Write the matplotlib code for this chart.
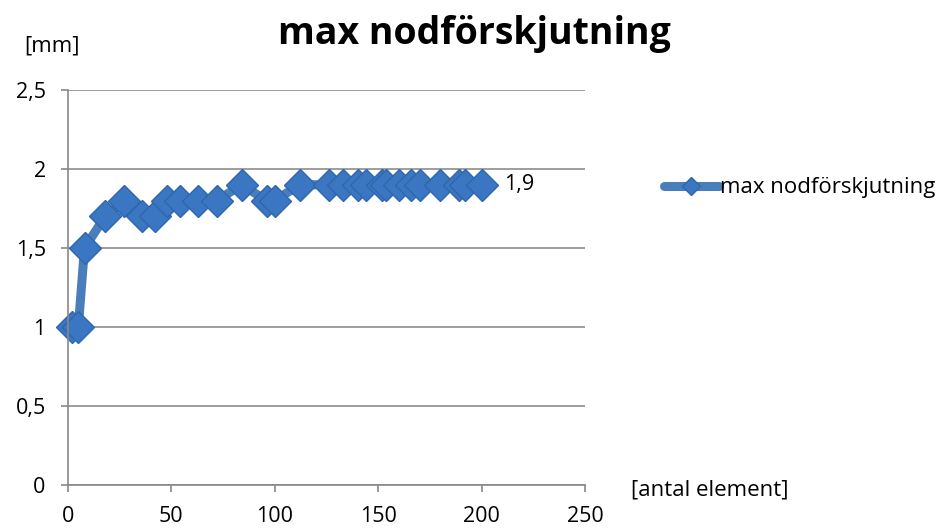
import matplotlib.pyplot as plt
import numpy as np

# antal element vs max nodförskjutning [mm]
antal_element = [2, 5, 8, 18, 27, 36, 42, 48, 54, 63, 72, 84, 96, 100, 112,
                 126, 133, 140, 144, 152, 154, 160, 166, 170, 180, 189, 192, 200]
max_forskjutning = [1.0, 1.0, 1.5, 1.7, 1.8, 1.7, 1.7, 1.8, 1.8, 1.8, 1.8, 1.9, 1.8, 1.8, 1.9,
                    1.9, 1.9, 1.9, 1.9, 1.9, 1.9, 1.9, 1.9, 1.9, 1.9, 1.9, 1.9, 1.9]
x_ticks = [0, 50, 100, 150, 200, 250]
y_ticks = [0, 0.5, 1, 1.5, 2, 2.5]
y_labels = ["0", "0,5", "1", "1,5", "2", "2,5"]

plt.rcParams['font.family'] = ['Open Sans', 'DejaVu Sans']

blue = "#4a7ebb"
fig = plt.figure(figsize=(9.48, 5.29), dpi=100)
ax = fig.add_axes([0.0717, 0.0832, 0.5454, 0.7468])

ax.set_xlim(0, 250)
ax.set_ylim(0, 2.5)
ax.set_xticks(x_ticks)
ax.set_yticks(y_ticks)
ax.set_yticklabels(y_labels)
ax.tick_params(labelsize=15.5, colors="#888888", labelcolor="black", length=5, width=1.2)
ax.tick_params(axis="x", pad=10)
ax.tick_params(axis="y", pad=11)
ax.grid(axis="y", color="#8c8c8c", linewidth=1.2)
ax.set_axisbelow(True)
for side in ["top", "right"]:
    ax.spines[side].set_visible(False)
for side in ["left", "bottom"]:
    ax.spines[side].set_color("#888888")
    ax.spines[side].set_linewidth(1.2)

ax.plot(antal_element, max_forskjutning, color=blue, linewidth=6.5,
        marker="D", markersize=16, markerfacecolor="#3a76c2",
        markeredgecolor="#2f66ad", markeredgewidth=1, solid_joinstyle="round",
        solid_capstyle="round", label="max nodförskjutning", clip_on=False)

ax.annotate("1,9", (antal_element[-1], max_forskjutning[-1]), xytext=(16, 0),
            textcoords="offset points", va="center", ha="left", fontsize=15.5)

fig.text(0.5, 0.935, "max nodförskjutning", ha="center", va="center",
         fontsize=27, fontweight="bold")
fig.text(0.055, 0.913, "[mm]", ha="center", va="center", fontsize=16)
fig.text(0.749, 0.073, "[antal element]", ha="center", va="center", fontsize=16)

fig.legend(loc="center left", bbox_to_anchor=(0.700, 0.645), frameon=False,
           fontsize=16, handlelength=2.5, handletextpad=0.05, markerscale=0.6,
           borderpad=0, borderaxespad=0)

fig.savefig("out.png", dpi=100)
